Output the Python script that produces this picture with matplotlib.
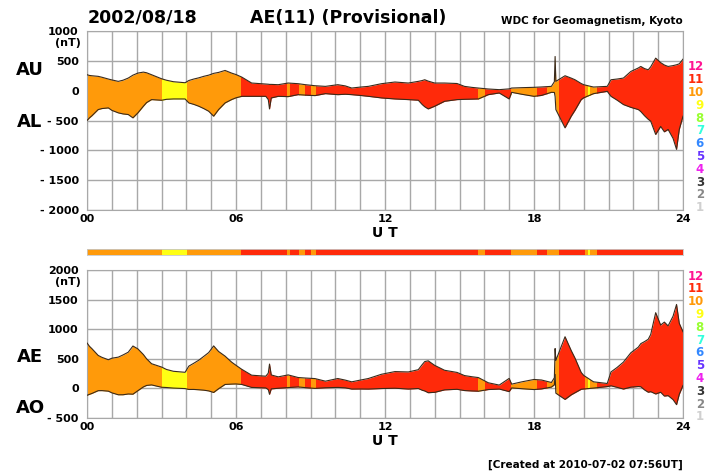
import matplotlib
matplotlib.use("Agg")
import matplotlib.pyplot as plt
from matplotlib.patches import Rectangle
import numpy as np

# readings (UT hours, nT)
hours = [0.0, 0.1, 0.2, 0.45, 0.6, 0.86, 1.0, 1.26, 1.45, 1.66, 1.85, 2.05, 2.27, 2.4,
         2.6, 3.0, 3.2, 3.48, 3.95, 4.1, 4.3, 4.5, 4.7, 4.9, 5.1, 5.3, 5.56, 5.82,
         6.0, 6.23, 6.63, 7.2, 7.3, 7.35, 7.42, 7.7, 8.1, 8.5, 8.8, 9.18, 9.6, 10.1,
         10.4, 10.66, 11.0, 11.33, 11.86, 12.4, 12.94, 13.34, 13.5, 13.6, 13.74, 14.0,
         14.4, 14.9, 15.2, 15.5, 15.76, 16.16, 16.6, 17.0, 17.1, 17.5, 18.0, 18.3,
         18.7, 18.82, 18.85, 18.88, 19.25, 19.5, 19.65, 19.9, 20.0, 20.3, 20.4, 20.95,
         21.1, 21.35, 21.6, 21.9, 22.2, 22.3, 22.45, 22.6, 22.7, 22.9, 23.1, 23.25,
         23.4, 23.6, 23.74, 23.85, 24.0]
au = [267, 255, 250, 240, 225, 195, 180, 156, 175, 211, 260, 295, 311, 300,
      267, 200, 175, 150, 133, 170, 195, 215, 240, 260, 290, 306, 339, 295,
      270, 228, 128, 111, 108, 105, 105, 100, 128, 117, 100, 83, 72, 100,
      80, 44, 60, 72, 117, 145, 128, 156, 170, 183, 160, 128,
      128, 120, 72, 55, 44, 28, 17, 30, 44, 50, 56, 62,
      72, 150, 573, 156, 250, 210, 183, 120, 100, 70, 61, 72,
      183, 195, 211, 322, 380, 406, 370, 350, 400, 545, 470, 430,
      406, 420, 434, 450, 528]
al = [-500, -456, -420, -317, -300, -289, -330, -372, -390, -400, -456, -372, -261, -200,
      -150, -161, -145, -139, -139, -206, -230, -261, -300, -345, -428, -317, -206, -150,
      -120, -95, -95, -95, -150, -306, -122, -95, -100, -67, -75, -83, -50, -67,
      -60, -67, -80, -95, -122, -139, -150, -160, -233, -270, -306, -261,
      -178, -150, -145, -142, -139, -67, -39, -139, -28, -60, -95, -80,
      -28, -30, -100, -317, -623, -428, -330, -150, -120, -67, -50, -11,
      -95, -160, -233, -280, -317, -350, -420, -480, -511, -734, -600, -690,
      -650, -800, -984, -650, -428]

# number of contributing stations along the day
seg_edges = [0, 3.02, 4.03, 6.2, 8.04, 8.17, 8.54, 8.78, 9.02, 9.22, 15.76, 16.03,
             17.07, 18.11, 18.54, 19.02, 20.05, 20.17, 20.25, 20.53, 24]
seg_n = [10, 9, 10, 11, 10, 11, 10, 11, 10, 11, 10, 11, 10, 11, 10, 11, 10, 9, 10, 11]

station_colors = {12: "#ff1493", 11: "#ff2a0a", 10: "#ff9a0a", 9: "#ffff14",
                  8: "#99ff33", 7: "#33ffdd", 6: "#3388ff", 5: "#6633ff",
                  4: "#ee22ee", 3: "#333333", 2: "#888888", 1: "#d0d0d0"}

t = np.array(hours)
au = np.array(au, dtype=float)
al = np.array(al, dtype=float)
ae = au - al
ao = (au + al) / 2

plt.rcParams["font.family"] = "DejaVu Sans"
plt.rcParams["font.weight"] = "bold"

fig = plt.figure(figsize=(7.07, 4.75), dpi=100)
W, H = 707, 475


def px_axes(x0, y0, x1, y1):
    return fig.add_axes([x0 / W, 1 - y1 / H, (x1 - x0) / W, (y1 - y0) / H])


def draw_panel(ax, lo, hi, ymin, ymax, labels):
    ax.set_xlim(0, 24)
    ax.set_ylim(ymin, ymax)
    for x in range(25):
        ax.axvline(x, color="#a8a8a8", lw=1.0, zorder=0)
    for y in range(ymin, ymax + 1, 500):
        ax.axhline(y, color="#a8a8a8", lw=1.0, zorder=0)
    for i, n in enumerate(seg_n):
        poly = ax.fill_between(t, lo, hi, color=station_colors[n], lw=0, zorder=2)
        clip = Rectangle((seg_edges[i], ymin - 5000), seg_edges[i + 1] - seg_edges[i],
                         20000, transform=ax.transData)
        poly.set_clip_path(clip)
    ax.plot(t, hi, color="#3a2a1a", lw=0.8, zorder=3)
    ax.plot(t, lo, color="#3a2a1a", lw=0.8, zorder=3)
    for s in ax.spines.values():
        s.set_color("#a8a8a8")
    ax.set_yticks(range(ymin, ymax + 1, 500))
    ax.set_yticklabels(labels, fontsize=8, fontweight="bold")
    ax.set_xticks([0, 6, 12, 18, 24])
    ax.set_xticklabels(["00", "06", "12", "18", "24"], fontsize=8, fontweight="bold")
    ax.tick_params(length=0, pad=3)
    ax.tick_params(axis="y", pad=6)
    ax.annotate("(nT)", xy=(0, ymax), xycoords=("axes fraction", "data"),
                xytext=(-4.5, -8.5), textcoords="offset points", ha="right",
                va="center", fontsize=8, fontweight="bold")
    ax.annotate("U T", xy=(0.5, 0), xycoords="axes fraction", xytext=(0, -16.5),
                textcoords="offset points", ha="center", va="center",
                fontsize=10, fontweight="bold")


ax1 = px_axes(87, 31, 683, 210)
draw_panel(ax1, al, au, -2000, 1000,
           ["- 2000", "- 1500", "- 1000", "- 500", "0", "500", "1000"])

ax2 = px_axes(87, 270, 683, 418)
draw_panel(ax2, ao, ae, -500, 2000,
           ["- 500", "0", "500", "1000", "1500", "2000"])

# station-count strip between the panels
axs = px_axes(87, 249, 683, 255)
for i, n in enumerate(seg_n):
    axs.axvspan(seg_edges[i], seg_edges[i + 1], color=station_colors[n], lw=0)
axs.set_xlim(0, 24)
axs.set_xticks([])
axs.set_yticks([])
for s in axs.spines.values():
    s.set_color("#c8c8c8")
    s.set_linewidth(0.6)

# titles and labels
fig.text(88 / W, 1 - 18 / H, "2002/08/18", fontsize=12.5, fontweight="bold", va="center")
fig.text(250 / W, 1 - 18 / H, "AE(11) (Provisional)", fontsize=12.5, fontweight="bold",
         va="center")
fig.text(683 / W, 1 - 21 / H, "WDC for Geomagnetism, Kyoto", fontsize=7.5,
         fontweight="bold", ha="right", va="center")
fig.text(683 / W, 1 - 465 / H, "[Created at 2010-07-02 07:56UT]", fontsize=7.5,
         fontweight="bold", ha="right", va="center")
for label, y in [("AU", 70), ("AL", 122), ("AE", 357), ("AO", 408)]:
    fig.text(30 / W, 1 - y / H, label, fontsize=13, fontweight="bold",
             ha="center", va="center")

for top in (67, 276):
    for k, n in enumerate(range(12, 0, -1)):
        fig.text(704 / W, 1 - (top + k * 12.8) / H, str(n), fontsize=8.5,
                 fontweight="bold", ha="right", va="center", color=station_colors[n])

fig.savefig("out.png", dpi=100)
